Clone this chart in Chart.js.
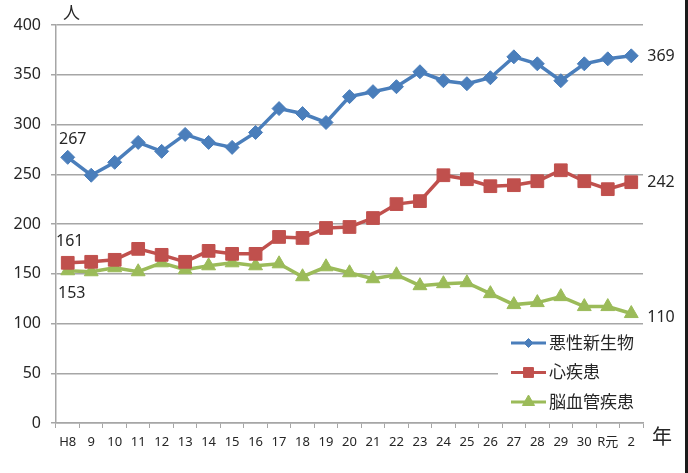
<!DOCTYPE html>
<html lang="ja">
<head>
<meta charset="utf-8">
<title>死因別死亡者数の推移</title>
<script src="https://cdn.jsdelivr.net/npm/chart.js@4.4.1/dist/chart.umd.min.js"></script>
<style>
  html, body { margin: 0; padding: 0; background: #fff; }
  #wrap { position: relative; width: 688px; height: 473px; }
</style>
</head>
<body>
<div id="wrap"><canvas id="deaths_chart" width="688" height="473"></canvas></div>
<script>
'use strict';

// 年（平成8年〜令和2年）
const years = ['H8', '9', '10', '11', '12', '13', '14', '15', '16', '17', '18', '19', '20',
    '21', '22', '23', '24', '25', '26', '27', '28', '29', '30', 'R元', '2'];

const cancer = [267, 249, 262, 282, 273, 290, 282, 277, 292, 316, 311, 302, 328,
    333, 338, 353, 344, 341, 347, 368, 361, 344, 361, 366, 369];
const heart = [161, 162, 164, 175, 169, 162, 173, 170, 170, 187, 186, 196, 197,
    206, 220, 223, 249, 245, 238, 239, 243, 254, 243, 235, 242];
const stroke = [153, 152, 156, 152, 161, 154, 158, 161, 158, 160, 147, 157, 151,
    145, 149, 138, 140, 141, 130, 119, 121, 127, 117, 117, 110];

const yTicks = { min: 0, max: 400, step: 50 };

const FONT = "'Noto Sans', 'Noto Sans CJK JP', sans-serif";
const TEXT = '#262626';
const GRID = '#a6a6a6';

function series(label, data, color, pointStyle, radius) {
    return {
        label: label,
        data: data,
        borderColor: color,
        backgroundColor: color,
        borderWidth: 3.5,
        pointStyle: pointStyle,
        pointRadius: radius,
        pointHoverRadius: radius,
        pointBorderWidth: 1,
        tension: 0,
        fill: false
    };
}

// first / last value labels: [dx, dy] from the point, text alignment
const endLabels = [
    { first: [5, -18, 'center'], last: [16, 1, 'left'] },
    { first: [2, -21, 'center'], last: [16, 0, 'left'] },
    { first: [4, 23, 'center'], last: [16, 4, 'left'] }
];

const endLabelPlugin = {
    id: 'endLabels',
    afterDatasetsDraw(chart) {
        const ctx = chart.ctx;
        ctx.save();
        ctx.font = '16px ' + FONT;
        ctx.fillStyle = TEXT;
        ctx.textBaseline = 'middle';
        chart.data.datasets.forEach((ds, i) => {
            const pts = chart.getDatasetMeta(i).data;
            const cfg = endLabels[i];
            const pairs = [[pts[0], ds.data[0], cfg.first], [pts[pts.length - 1], ds.data[ds.data.length - 1], cfg.last]];
            pairs.forEach(([p, v, o]) => {
                ctx.textAlign = o[2];
                ctx.fillText(String(v), p.x + o[0], p.y + o[1]);
            });
        });
        ctx.restore();
    }
};

// legend box inside the plot, bottom right, over the grid
const insideLegendPlugin = {
    id: 'insideLegend',
    afterDraw(chart) {
        const ctx = chart.ctx;
        const area = chart.chartArea;
        const left = 498;
        ctx.save();
        ctx.fillStyle = '#fff';
        ctx.fillRect(left, area.bottom - 96, area.right - left, 94);

        const sizes = [4.5, 7, 7];
        chart.data.datasets.forEach((ds, i) => {
            const y = 343 + i * 29.5;
            ctx.strokeStyle = ds.borderColor;
            ctx.lineWidth = 3;
            ctx.beginPath();
            ctx.moveTo(511, y);
            ctx.lineTo(546, y);
            ctx.stroke();
            ctx.fillStyle = ds.backgroundColor;
            ctx.strokeStyle = ds.borderColor;
            ctx.lineWidth = 1;
            Chart.helpers.drawPoint(ctx, { pointStyle: ds.pointStyle, radius: sizes[i], rotation: 0, borderWidth: 1 }, 528.5, y);
            ctx.fillStyle = TEXT;
            ctx.font = '17px ' + FONT;
            ctx.textAlign = 'left';
            ctx.textBaseline = 'middle';
            ctx.fillText(ds.label, 549, y + 1);
        });

        // unit labels
        ctx.font = '17px ' + FONT;
        ctx.textAlign = 'left';
        ctx.textBaseline = 'middle';
        ctx.fillText('人', 63, 14);
        ctx.font = '20px ' + FONT;
        ctx.fillText('年', 652, 438);

        // dark frame edge on the right
        ctx.fillStyle = '#1a1a1a';
        ctx.fillRect(685, 0, 3, chart.height);
        ctx.restore();
    }
};

const chart = new Chart(document.getElementById('deaths_chart'), {
    type: 'line',
    data: {
        labels: years,
        datasets: [
            series('悪性新生物', cancer, '#4a7ebb', 'rectRot', 7),
            series('心疾患', heart, '#c0504d', 'rect', 9),
            series('脳血管疾患', stroke, '#9bbb59', 'triangle', 8)
        ]
    },
    options: {
        responsive: false,
        animation: false,
        layout: { padding: { top: 25, right: 45, left: 0, bottom: 0 } },
        plugins: {
            legend: { display: false },
            tooltip: { enabled: false }
        },
        scales: {
            x: {
                offset: true,
                grid: {
                    display: true,
                    drawOnChartArea: false,
                    drawTicks: true,
                    tickLength: 5,
                    color: GRID,
                    offset: true
                },
                border: { display: true, color: GRID, width: 1.5 },
                ticks: {
                    font: { family: FONT, size: 13 },
                    color: TEXT,
                    padding: 6,
                    maxRotation: 0,
                    autoSkip: false
                },
                afterFit(scale) { scale.height = 50; }
            },
            y: {
                min: yTicks.min,
                max: yTicks.max,
                grid: {
                    color: GRID,
                    lineWidth: 1.5,
                    tickLength: 5
                },
                border: { display: true, color: GRID, width: 1.5 },
                ticks: {
                    stepSize: yTicks.step,
                    font: { family: FONT, size: 16 },
                    color: TEXT,
                    padding: 10
                },
                afterFit(scale) { scale.width = 56; }
            }
        }
    },
    plugins: [endLabelPlugin, insideLegendPlugin]
});
</script>
</body>
</html>
